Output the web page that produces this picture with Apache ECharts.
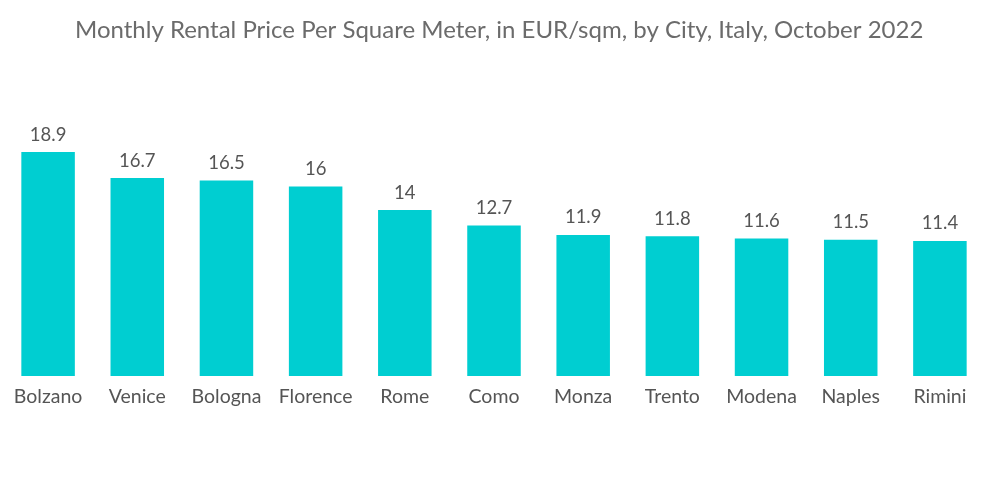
<!DOCTYPE html>
<html><head><meta charset="utf-8">
<script src="https://cdn.jsdelivr.net/npm/echarts@6/dist/echarts.min.js"></script>
<style>html,body{margin:0;padding:0;background:#fff}#c{width:1000px;height:504px}</style>
</head><body><div id="c"></div>
<script>
const titleText = 'Monthly Rental Price Per Square Meter, in EUR/sqm, by City, Italy, October 2022';
const categories = ['Bolzano','Venice','Bologna','Florence','Rome','Como','Monza','Trento','Modena','Naples','Rimini'];
const values = [18.9,16.7,16.5,16,14,12.7,11.9,11.8,11.6,11.5,11.4];
const chart = echarts.init(document.getElementById('c'));
chart.setOption({
  animation:false,
  title:{text:titleText,left:70,top:13,textStyle:{fontFamily:'Lato',fontWeight:'normal',fontSize:24,color:'#6b6b6b'}},
  grid:{left:3.5,right:15.5,top:139,bottom:128},
  xAxis:{type:'category',data:categories,axisLine:{show:false},axisTick:{show:false},
    axisLabel:{fontFamily:'Lato',fontSize:19.5,color:'#555',margin:11,interval:0}},
  yAxis:{type:'value',min:0,max:20,show:false,splitLine:{show:false}},
  series:[{type:'bar',data:values,barWidth:'60%',itemStyle:{color:'#00CED1'},
    label:{show:true,position:'top',distance:8,fontFamily:'Lato',fontSize:18.5,color:'#555'}}]
});
</script></body></html>
